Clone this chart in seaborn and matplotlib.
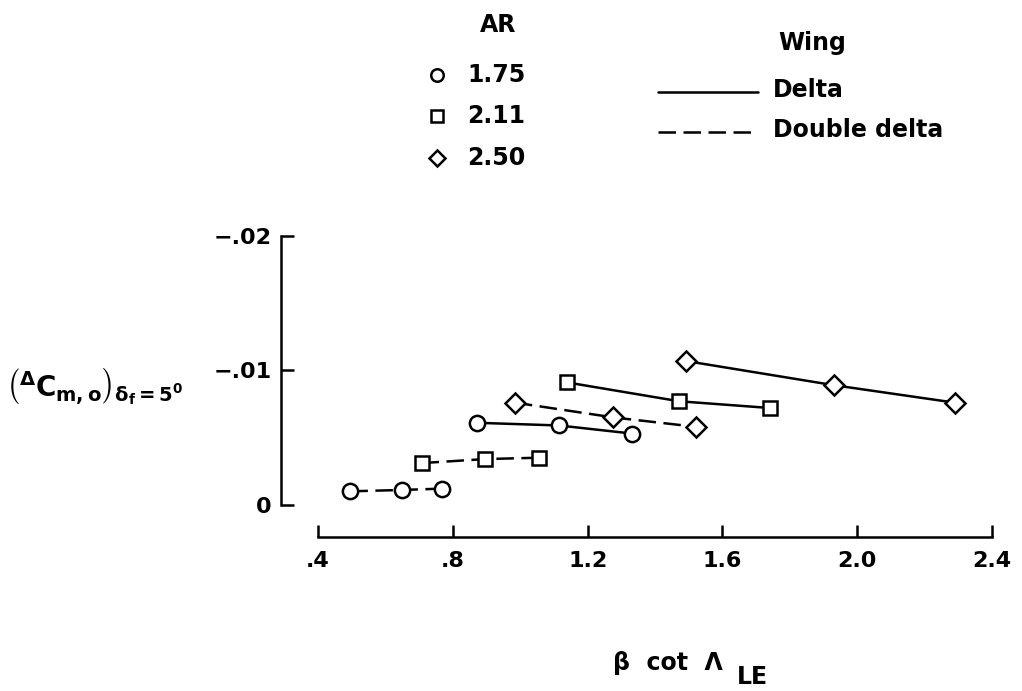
import matplotlib
matplotlib.use("Agg")
import matplotlib.pyplot as plt
from matplotlib.lines import Line2D
import numpy as np
import pandas as pd
import seaborn as sns

# beta*cot(Lambda_LE) and pitching-moment increment for each configuration
delta_175_x = [0.871, 1.115, 1.331]
delta_175_y = [-0.0061, -0.0059, -0.0053]
ddelta_175_x = [0.496, 0.648, 0.767]
ddelta_175_y = [-0.0010, -0.0011, -0.0012]

delta_211_x = [1.140, 1.472, 1.741]
delta_211_y = [-0.0091, -0.0077, -0.0072]
ddelta_211_x = [0.707, 0.896, 1.055]
ddelta_211_y = [-0.0031, -0.0034, -0.0035]

delta_250_x = [1.491, 1.930, 2.289]
delta_250_y = [-0.0107, -0.0089, -0.0076]
ddelta_250_x = [0.984, 1.276, 1.521]
ddelta_250_y = [-0.0076, -0.0065, -0.0058]

ar_labels = ["1.75", "2.11", "2.50"]
wing_labels = ["Delta", "Double delta"]
x_ticks = [0.4, 0.8, 1.2, 1.6, 2.0, 2.4]
x_tick_labels = [".4", ".8", "1.2", "1.6", "2.0", "2.4"]
y_ticks = [-0.02, -0.01, 0.0]
y_tick_labels = ["\u2212.02", "\u2212.01", "0"]

rows = []
for ar, wing, xs, ys in [
    ("1.75", "Delta", delta_175_x, delta_175_y),
    ("1.75", "Double delta", ddelta_175_x, ddelta_175_y),
    ("2.11", "Delta", delta_211_x, delta_211_y),
    ("2.11", "Double delta", ddelta_211_x, ddelta_211_y),
    ("2.50", "Delta", delta_250_x, delta_250_y),
    ("2.50", "Double delta", ddelta_250_x, ddelta_250_y),
]:
    for xv, yv in zip(xs, ys):
        rows.append({"x": xv, "y": yv, "AR": ar, "wing": wing})
df = pd.DataFrame(rows)

sns.set_theme(style="white")
plt.rcParams["font.family"] = ["DejaVu Sans"]
plt.rcParams["font.weight"] = "bold"
plt.rcParams["text.color"] = "black"
plt.rcParams["axes.unicode_minus"] = False
plt.rcParams["mathtext.fontset"] = "custom"
plt.rcParams["mathtext.rm"] = "DejaVu Sans:bold"
plt.rcParams["mathtext.it"] = "DejaVu Sans:bold"
plt.rcParams["mathtext.bf"] = "DejaVu Sans:bold"
plt.rcParams["mathtext.sf"] = "DejaVu Sans:bold"

W, H = 1022, 691
fig = plt.figure(figsize=(W / 100, H / 100), dpi=100)
fig.patch.set_facecolor("white")


def P(px, py):
    return px / W, 1 - py / H


ax = fig.add_axes([281 / W, (H - 537) / H, (992 - 281) / W, (537 - 236) / H])
ax.set_facecolor("white")

markers = {"1.75": ("o", 11), "2.11": ("s", 10), "2.50": ("D", 10)}
styles = {"Delta": "-", "Double delta": (0, (7, 3))}
LW = 1.8

for (ar, wing), sub in df.groupby(["AR", "wing"], sort=False):
    m, ms = markers[ar]
    sns.lineplot(
        data=sub, x="x", y="y", ax=ax, color="black",
        marker=m, markersize=ms, markerfacecolor="white",
        markeredgecolor="black", markeredgewidth=LW,
        linestyle=styles[wing], linewidth=LW,
        sort=False, estimator=None, legend=False, clip_on=False,
    )

ax.set_xlim(0.29, 2.4)
ax.set_ylim(0.0024, -0.02)
for s in ["top", "right"]:
    ax.spines[s].set_visible(False)
for s in ["left", "bottom"]:
    ax.spines[s].set_linewidth(LW)
    ax.spines[s].set_color("black")
ax.spines["left"].set_bounds(-0.02, 0.0)
ax.spines["bottom"].set_bounds(0.4, 2.4)

ax.set_xticks(x_ticks)
ax.set_xticklabels(x_tick_labels)
ax.set_yticks(y_ticks)
ax.set_yticklabels(y_tick_labels)
ax.tick_params(axis="both", direction="in", length=9, width=LW, color="black",
               labelsize=16, labelcolor="black", bottom=True, left=True)
ax.tick_params(axis="x", pad=10)
ax.tick_params(axis="y", pad=7)
for lab in ax.get_xticklabels() + ax.get_yticklabels():
    lab.set_fontweight("bold")
ax.set_xlabel("")
ax.set_ylabel("")

# axis titles
fig.text(*P(6, 387),
         r"$\left(^{\Delta}\mathrm{C}_{\mathrm{m,o}}\right)_{\delta_{\mathrm{f}}\mathrm{=5}^{0}}$",
         fontsize=20, color="black", ha="left", va="center")
fig.text(*P(668, 663), "β  cot  Λ", fontsize=17, fontweight="bold", color="black",
         ha="center", va="center")
fig.text(*P(737, 677), "LE", fontsize=17, fontweight="bold", color="black",
         ha="left", va="center")

# AR key
fig.text(*P(498, 25), "AR", fontsize=17, fontweight="bold", color="black",
         ha="center", va="center")
key_rows = [(75, "o", 9), (116, "s", 8.5), (158, "D", 8.5)]
for (py, m, ms), lab in zip(key_rows, ar_labels):
    fig.add_artist(Line2D([P(437, py)[0]], [P(437, py)[1]], transform=fig.transFigure,
                          marker=m, markersize=ms, markerfacecolor="white",
                          markeredgecolor="black", markeredgewidth=LW, linestyle="none"))
    fig.text(*P(467, py), lab, fontsize=17, fontweight="bold", color="black",
             ha="left", va="center")

# wing key
fig.text(*P(778, 43), "Wing", fontsize=17, fontweight="bold", color="black",
         ha="left", va="center")
for py, wing in zip([90, 130], wing_labels):
    x0, y0 = P(658, py + 2)
    x1, _ = P(758, py + 2)
    fig.add_artist(Line2D([x0, x1], [y0, y0], transform=fig.transFigure,
                          color="black", linewidth=LW, linestyle=styles[wing]))
    fig.text(*P(773, py), wing, fontsize=17, fontweight="bold", color="black",
             ha="left", va="center")

fig.savefig("out.png", dpi=100, facecolor="white")
